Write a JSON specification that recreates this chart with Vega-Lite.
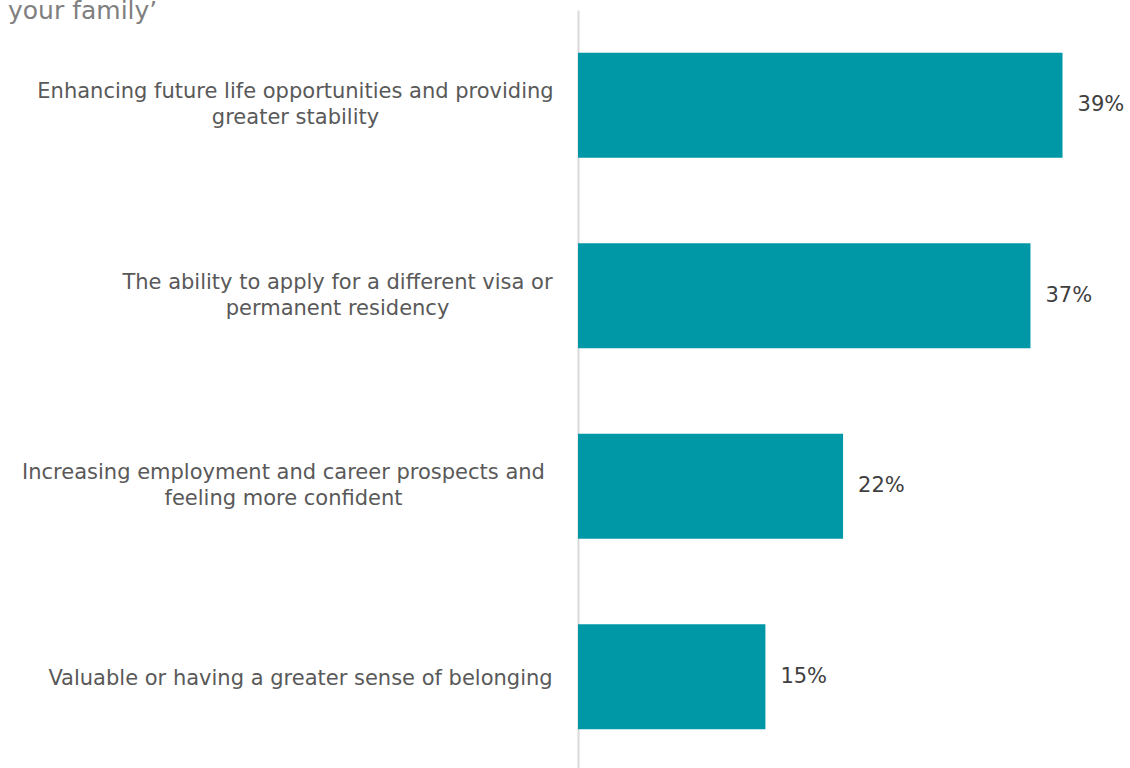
{
  "$schema": "https://vega.github.io/schema/vega-lite/v6.json",
  "width": 540,
  "height": 762,
  "autosize": {"type": "none"},
  "padding": {"left": 578, "top": 10, "right": 12, "bottom": 0},
  "background": "white",
  "title": {
    "text": "your family’",
    "anchor": "start",
    "frame": "group",
    "dx": -570,
    "dy": 18,
    "font": "DejaVu Sans",
    "fontSize": 25,
    "fontWeight": "normal",
    "color": "#7f7f7f"
  },
  "data": {
    "values": [
      {"key": "a", "value": 39.3, "label": "39%"},
      {"key": "b", "value": 36.7, "label": "37%"},
      {"key": "c", "value": 21.5, "label": "22%"},
      {"key": "d", "value": 15.2, "label": "15%"}
    ]
  },
  "encoding": {
    "y": {
      "field": "key",
      "type": "nominal",
      "sort": null,
      "scale": {"paddingInner": 0.45, "paddingOuter": 0.225},
      "axis": {
        "title": null,
        "ticks": false,
        "domainColor": "#d9d9d9",
        "domainWidth": 2,
        "labelExpr": "datum.value == 'a' ? ['Enhancing future life opportunities and providing', 'greater stability'] : datum.value == 'b' ? ['The ability to apply for a different visa or', 'permanent residency'] : datum.value == 'c' ? ['Increasing employment and career prospects and', 'feeling more confident'] : 'Valuable or having a greater sense of belonging'",
        "labelAlign": "center",
        "labelBaseline": "middle",
        "labelPadding": {"expr": "datum.value == 'a' ? 283 : datum.value == 'b' ? 241 : datum.value == 'c' ? 295 : 278"},
        "labelOffset": {"expr": "datum.value == 'd' ? 2 : -13"},
        "labelLineHeight": 26,
        "labelFont": "DejaVu Sans",
        "labelFontSize": 21,
        "labelColor": "#595959",
        "labelLimit": 0
      }
    },
    "x": {
      "field": "value",
      "type": "quantitative",
      "scale": {"domain": [0, 43.8]},
      "axis": null
    }
  },
  "layer": [
    {"mark": {"type": "bar", "color": "#0097A7"}},
    {
      "mark": {"type": "text", "align": "left", "baseline": "middle", "dx": 15, "font": "DejaVu Sans", "fontSize": 21, "color": "#404040"},
      "encoding": {"text": {"field": "label"}}
    }
  ],
  "config": {"view": {"stroke": null}}
}
